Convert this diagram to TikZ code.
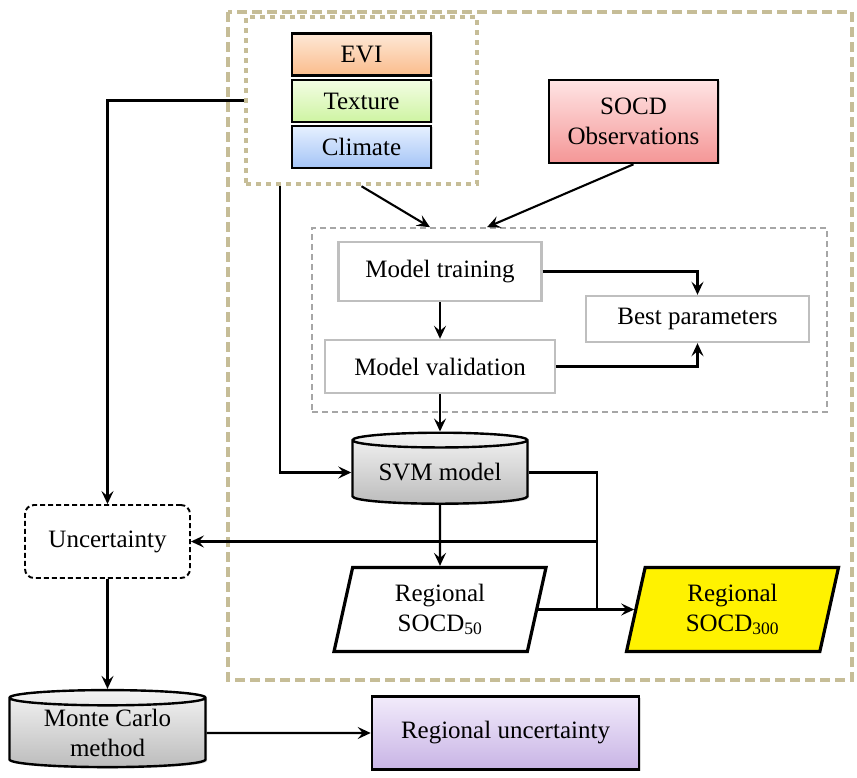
\documentclass[tikz,border=0pt]{standalone}
\usepackage{fontspec}
\setmainfont{Liberation Serif}
\usetikzlibrary{arrows.meta,shapes.geometric,shadows}
\definecolor{frametan}{RGB}{198,189,151}
\definecolor{evitop}{RGB}{254,232,214}\definecolor{evibot}{RGB}{250,188,140}
\definecolor{textop}{RGB}{243,253,228}\definecolor{texbot}{RGB}{206,244,162}
\definecolor{climtop}{RGB}{230,240,255}\definecolor{climbot}{RGB}{164,196,246}
\definecolor{obstop}{RGB}{255,228,228}\definecolor{obsbot}{RGB}{244,150,150}
\definecolor{cantop}{RGB}{244,244,244}\definecolor{canbot}{RGB}{188,188,188}
\definecolor{unctop}{RGB}{242,235,251}\definecolor{uncbot}{RGB}{200,180,229}
\begin{document}
\begin{tikzpicture}[x=1pt,y=-1pt,font=\fontsize{25}{30}\selectfont,
  shade/.style={drop shadow={shadow xshift=1.5pt,shadow yshift=-1.5pt,opacity=.3}},
  box/.style={draw,line width=2.6pt,inner sep=0pt,align=center,shade},
  grey/.style={draw=black!25,line width=2.4pt,inner sep=0pt,fill=white},
  can/.style={cylinder,shape border rotate=90,aspect=.12,draw,line width=2.4pt,
    inner sep=0pt,align=center,top color=cantop,bottom color=canbot,shade},
  para/.style={trapezium,trapezium left angle=70,trapezium right angle=110,
    trapezium stretches body,draw,line width=3.2pt,inner sep=0pt,align=center,
    minimum width=212pt,minimum height=84pt},
  link/.style={line width=2.1pt},
  arr/.style={link,-{Stealth[length=13pt,width=12pt,inset=5pt]}}]
\useasboundingbox (0,0) rectangle (857,778);
\draw[frametan,line width=3.5pt,dash pattern=on 10pt off 5pt] (228,12) rectangle (852,680);
\node[draw=frametan,line width=4.5pt,dash pattern=on 5pt off 5pt,minimum width=231pt,minimum height=167pt] (inputs) at (361.5,100.5) {};
\foreach \n/\t/\c/\y in {evi/EVI/evi/54.5,tex/Texture/tex/101,clim/Climate/clim/147}
  \node[box,minimum width=139pt,minimum height=42pt,top color=\c top,bottom color=\c bot] (\n) at (361.5,\y) {\t};
\node[box,minimum width=169pt,minimum height=83pt,top color=obstop,bottom color=obsbot] (obs) at (633.5,121.5) {SOCD\\Observations};
\node[draw=black!35,line width=1.6pt,dash pattern=on 6pt off 4pt,minimum width=515pt,minimum height=184pt] (tune) at (569.5,320) {};
\node[grey,minimum width=203pt,minimum height=59pt] (train) at (440,271.5) {Model training};
\node[grey,minimum width=230pt,minimum height=53pt] (valid) at (440,366.5) {Model validation};
\node[grey,minimum width=223pt,minimum height=46pt] (best) at (697.5,319) {Best parameters};
\node[can,minimum width=175pt,minimum height=71pt] (svm) at (440,472.5) {SVM model};
\node[para] (s50) at (440,609.5) {Regional\\SOCD\textsubscript{50}};
\node[para,fill=yellow] (s300) at (732.5,609.5) {Regional\\SOCD\textsubscript{300}};
\node[draw,line width=1.9pt,dash pattern=on 5pt off 3pt,rounded corners=9pt,minimum width=165pt,minimum height=73pt] (unc) at (107.5,541.5) {Uncertainty};
\node[can,minimum width=196pt,minimum height=77pt] (mc) at (107.5,733) {Monte Carlo\\method};
\node[box,minimum width=267pt,minimum height=73pt,top color=unctop,bottom color=uncbot] (reg) at (505.5,733) {Regional uncertainty};
\coordinate (jn) at (597,541.5);
% inputs and observations into the tuning block
\draw[arr] (inputs.south) -- ([xshift=-139.5pt]tune.north);
\draw[arr] (obs.south) -- ([xshift=-82.5pt]tune.north);
\draw[arr] (train) -- (valid);
\draw[arr] (train.east) -| (best.north);
\draw[arr] (valid.east) -| (best.south);
\draw[arr] (valid.south) -- (svm.north);
\draw[arr] ([xshift=-81.5pt]inputs.south) |- (svm.west);
\draw[arr] (inputs.west) -| (unc.north);
\draw[arr] (svm.south) -- (s50.north);
\draw[link] (svm.east) -| (s50.east -| jn);
\draw[arr] (jn) -- (unc.east);
\draw[arr] (s50.east) -- (s300.west);
\draw[arr] (unc) -- (mc);
\draw[arr] (mc) -- (reg);
\end{tikzpicture}
\end{document}
